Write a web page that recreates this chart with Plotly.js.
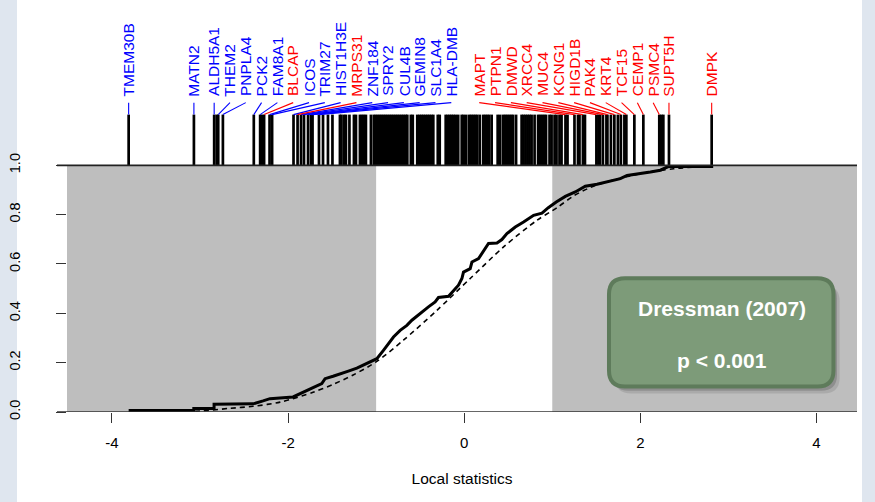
<!DOCTYPE html>
<html>
<head>
<meta charset="utf-8">
<script src="https://cdn.plot.ly/plotly-3.0.1.min.js"></script>
<style>
  html, body { margin: 0; padding: 0; background: #ffffff; }
  #chart { width: 875px; height: 502px; }
</style>
</head>
<body>
<div id="chart"></div>
<script>
// ---------------- DATA ----------------
// x positions (local statistics) of every gene bar in the barcode
const barStats = [
  -3.810, -3.069, -2.839, -2.810, -2.793, -2.740, -2.389, -2.317, -2.295, -2.272,
  -2.210, -2.181, -1.938, -1.892, -1.853, -1.819, -1.773, -1.739, -1.722, -1.649,
  -1.603, -1.547, -1.496, -1.411, -1.394, -1.365, -1.343, -1.303, -1.252, -1.229,
  -1.184, -1.161, -1.139, -1.116, -1.059, -1.026, -1.003, -0.980, -0.957, -0.935,
  -0.912, -0.890, -0.867, -0.844, -0.822, -0.799, -0.776, -0.754, -0.731, -0.708,
  -0.686, -0.663, -0.646, -0.606, -0.584, -0.533, -0.510, -0.487, -0.465, -0.442,
  -0.419, -0.397, -0.374, -0.351, -0.300, -0.278, -0.210, -0.187, -0.164, -0.142,
  -0.119, -0.096, -0.068, -0.028, -0.006, 0.023, 0.057, 0.079, 0.102, 0.125,
  0.147, 0.176, 0.215, 0.238, 0.261, 0.283, 0.312, 0.380, 0.408, 0.442,
  0.465, 0.487, 0.510, 0.533, 0.555, 0.589, 0.652, 0.674, 0.697, 0.720,
  0.742, 0.765, 0.799, 0.839, 0.861, 0.884, 0.907, 0.929, 0.969, 0.992,
  1.026, 1.048, 1.082, 1.105, 1.150, 1.173, 1.252, 1.292, 1.309, 1.348,
  1.371, 1.501, 1.524, 1.541, 1.575, 1.615, 1.626, 1.666, 1.705, 1.745,
  1.779, 1.819, 1.841, 1.932, 2.034, 2.215, 2.238, 2.261, 2.325, 2.810
];

// labelled genes (sorted by statistic), their statistic and direction
const labelGenes = [
  'TMEM30B','MATN2','ALDH5A1','THEM2','PNPLA4','PCK2','FAM8A1','BLCAP','ICOS','TRIM27',
  'HIST1H3E','MRPS31','ZNF184','SPRY2','CUL4B','GEMIN8','SLC1A4','HLA-DMB',
  'MAPT','PTPN1','DMWD','XRCC4','MUC4','KCNG1','HIGD1B','PAK4','KRT4','TCF15',
  'CEMP1','PSMC4','SUPT5H','DMPK'
];
const labelStats = [
  -3.810, -3.069, -2.839, -2.793, -2.740, -2.389, -2.317, -2.272, -2.210, -2.181,
  -1.938, -1.892, -1.853, -1.819, -1.773, -1.739, -1.722, -1.649,
  1.150, 1.252, 1.348, 1.501, 1.575, 1.626, 1.705, 1.779, 1.841, 1.932,
  2.034, 2.215, 2.325, 2.810
];
const labelDir = [
  'down','down','down','down','down','down','down','up','down','down',
  'down','up','down','down','down','down','down','down',
  'up','up','up','up','up','up','up','up','up','up',
  'up','up','up','up'
];

// running enrichment (ECDF) of the gene set - solid line
const ecdfX = [
  -3.810, -3.070, -3.070, -2.840, -2.840, -2.398, -2.284, -2.205, -1.943, -1.864,
  -1.788, -1.716, -1.617, -1.580, -1.489, -1.409, -1.315, -1.219, -1.106, -0.992,
  -0.917, -0.803, -0.727, -0.651, -0.594, -0.500, -0.406, -0.330, -0.292, -0.178,
  -0.122, -0.065, -0.026, -0.008, 0.068, 0.088, 0.163, 0.219, 0.276, 0.372,
  0.428, 0.485, 0.580, 0.674, 0.788, 0.883, 0.955, 1.045, 1.148, 1.261,
  1.375, 1.508, 1.622, 1.773, 1.849, 2.000, 2.114, 2.227, 2.303, 2.318,
  2.810, 2.810
];
const ecdfY = [
  0.006, 0.006, 0.014, 0.014, 0.031, 0.033, 0.045, 0.054, 0.061, 0.075,
  0.088, 0.099, 0.115, 0.135, 0.145, 0.156, 0.166, 0.178, 0.196, 0.216,
  0.250, 0.304, 0.331, 0.351, 0.372, 0.401, 0.426, 0.446, 0.464, 0.469,
  0.493, 0.514, 0.541, 0.567, 0.581, 0.608, 0.622, 0.655, 0.683, 0.685,
  0.699, 0.723, 0.750, 0.770, 0.797, 0.806, 0.828, 0.851, 0.874, 0.892,
  0.915, 0.923, 0.932, 0.946, 0.959, 0.966, 0.973, 0.980, 0.991, 0.995,
  0.995, 1.000
];

// background distribution - dashed line
const bgX = [-3.568, -3.000, -2.659, -2.398, -2.091, -1.716, -1.489, -1.261, -0.992, -0.690,
  -0.310, 0.068, 0.447, 0.826, 1.053, 1.242, 1.432, 1.622, 2.000, 2.378, 2.812];
const bgY = [0.000, 0.004, 0.015, 0.023, 0.040, 0.080, 0.112, 0.150, 0.205, 0.291,
  0.412, 0.541, 0.669, 0.777, 0.828, 0.876, 0.910, 0.933, 0.966, 0.986, 0.998];

// axis ticks
const xTickVals = [-4, -2, 0, 2, 4];
const xTickText = ['-4', '-2', '0', '2', '4'];
const yTickVals = [0, 0.2, 0.4, 0.6, 0.8, 1.0];
const yTickText = ['0.0', '0.2', '0.4', '0.6', '0.8', '1.0'];

// shaded regions limit and annotation text
const shadeLimit = 1;
const boxTitle = 'Dressman (2007)';
const boxP = 'p < 0.001';

// ---------------- LAYOUT CONSTANTS ----------------
const FONT = 'Liberation Sans, Arial, sans-serif';
const XR = [-4.51, 4.46];
const YR = [0, 1.670];
const barTop = 1.2055;
const conTop = 1.254;
const labTop = 1.2716;
const gap = 0.1795;
const dirColor = {down: '#0000ff', up: '#ff0000'};

// label positions spread apart
const n = labelGenes.length;
const pos = new Array(n);
let prev = -Infinity;
for (let i = 0; i < n; i++) {
  if (labelStats[i] < 0) { pos[i] = Math.max(labelStats[i], prev + gap); prev = pos[i]; }
}
let nxt = Infinity;
for (let i = n - 1; i >= 0; i--) {
  if (labelStats[i] > 0) { pos[i] = Math.min(labelStats[i], nxt - gap); nxt = pos[i]; }
}

// barcode trace
const bx = [], by = [];
barStats.forEach(b => { bx.push(b, b, null); by.push(1, barTop, null); });

// connectors
const conTraces = {down: {x: [], y: []}, up: {x: [], y: []}};
for (let i = 0; i < n; i++) {
  const c = conTraces[labelDir[i]];
  c.x.push(labelStats[i], pos[i], null);
  c.y.push(barTop, conTop, null);
}

const traces = [
  {x: bx, y: by, mode: 'lines', line: {color: '#000000', width: 2.7}, hoverinfo: 'skip', showlegend: false},
  {x: conTraces.down.x, y: conTraces.down.y, mode: 'lines', line: {color: dirColor.down, width: 1.1}, hoverinfo: 'skip', showlegend: false},
  {x: conTraces.up.x, y: conTraces.up.y, mode: 'lines', line: {color: dirColor.up, width: 1.1}, hoverinfo: 'skip', showlegend: false},
  {x: bgX, y: bgY, mode: 'lines', line: {color: '#000000', width: 1.6, dash: '5px,4px', shape: 'spline', smoothing: 0.8}, hoverinfo: 'skip', showlegend: false},
  {x: ecdfX, y: ecdfY, mode: 'lines', line: {color: '#000000', width: 3}, hoverinfo: 'skip', showlegend: false}
];

const annotations = labelGenes.map((g, i) => ({
  x: pos[i], y: labTop, xref: 'x', yref: 'y', text: g, textangle: -90,
  showarrow: false, xanchor: 'center', yanchor: 'bottom',
  font: {family: FONT, size: 15.5, color: dirColor[labelDir[i]]}
}));

// green box
const bx0 = 1.644, bx1 = 4.193, byT = 0.542, byB = 0.103, rx = 0.182, ry = 0.065;
function rr(dx, dy) {
  const a = bx0 + dx, b = bx1 + dx, t = byT + dy, u = byB + dy;
  return `M ${a + rx},${t} L ${b - rx},${t} Q ${b},${t} ${b},${t - ry} L ${b},${u + ry} Q ${b},${u} ${b - rx},${u} ` +
         `L ${a + rx},${u} Q ${a},${u} ${a},${u + ry} L ${a},${t - ry} Q ${a},${t} ${a + rx},${t} Z`;
}
annotations.push({x: (bx0 + bx1) / 2 + 0.01, y: 0.419, xref: 'x', yref: 'y', text: '<b>' + boxTitle + '</b>', showarrow: false,
  font: {family: FONT, size: 21, color: '#ffffff'}});
annotations.push({x: (bx0 + bx1) / 2 + 0.01, y: 0.2096, xref: 'x', yref: 'y', text: '<b>' + boxP + '</b>', showarrow: false,
  font: {family: FONT, size: 21, color: '#ffffff'}});

const shapes = [
  // outer page strips
  {type: 'rect', xref: 'paper', yref: 'paper', x0: -0.0848, x1: -0.0633, y0: -0.2185, y1: 1, fillcolor: '#dfe6ef', line: {width: 0}, layer: 'below'},
  {type: 'rect', xref: 'paper', yref: 'paper', x0: 1.0063, x1: 1.0228, y0: -0.2185, y1: 1, fillcolor: '#dfe6ef', line: {width: 0}, layer: 'below'},
  // grey shaded regions
  {type: 'rect', xref: 'x', yref: 'y', x0: XR[0], x1: -shadeLimit, y0: 0, y1: 1, fillcolor: '#bebebe', line: {width: 0}, layer: 'below'},
  {type: 'rect', xref: 'x', yref: 'y', x0: shadeLimit, x1: XR[1], y0: 0, y1: 1, fillcolor: '#bebebe', line: {width: 0}, layer: 'below'},
  // baselines
  {type: 'line', xref: 'paper', yref: 'y', x0: -0.0127, x1: 1, y0: 0, y1: 0, line: {color: '#333333', width: 1.5}},
  {type: 'line', xref: 'paper', yref: 'y', x0: -0.0127, x1: 1, y0: 1, y1: 1, line: {color: '#222222', width: 1.8}},
  // box shadow + box
  {type: 'path', xref: 'x', yref: 'y', path: rr(0.07, -0.028), fillcolor: 'rgba(0,0,0,0.10)', line: {width: 0}},
  {type: 'path', xref: 'x', yref: 'y', path: rr(0.04, -0.017), fillcolor: 'rgba(0,0,0,0.16)', line: {width: 0}},
  {type: 'path', xref: 'x', yref: 'y', path: rr(0, 0), fillcolor: '#7d9b79', line: {color: '#5e7b5b', width: 4}}
];

const layout = {
  width: 875, height: 502,
  margin: {l: 67, r: 18, t: 0, b: 90, pad: 0},
  paper_bgcolor: '#ffffff', plot_bgcolor: 'rgba(0,0,0,0)',
  showlegend: false,
  font: {family: FONT, color: '#000000'},
  xaxis: {
    range: XR, tickvals: xTickVals, ticktext: xTickText, ticks: 'outside', ticklen: 10, tickwidth: 1,
    tickcolor: '#333333', showgrid: false, zeroline: false, showline: false, fixedrange: true,
    tickfont: {family: FONT, size: 15, color: '#000000'}, ticklabelstandoff: 7,
    title: {text: 'Local statistics', font: {family: FONT, size: 15.5, color: '#000000'}, standoff: 23}
  },
  yaxis: {
    range: YR, tickvals: yTickVals, ticktext: yTickText, ticks: 'outside', ticklen: 10, tickwidth: 1,
    tickcolor: '#333333', showgrid: false, zeroline: false, showline: false, fixedrange: true,
    tickangle: -90, tickfont: {family: FONT, size: 14.5, color: '#000000'}, ticklabelstandoff: 30
  },
  shapes: shapes,
  annotations: annotations
};

Plotly.newPlot('chart', traces, layout, {displayModeBar: false, staticPlot: true});
</script>
</body>
</html>
